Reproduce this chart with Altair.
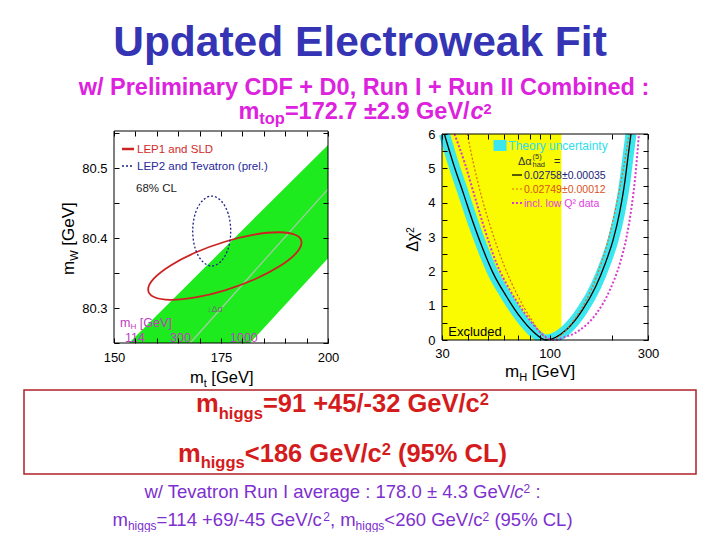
import altair as alt
import pandas as pd

# ================= DATA =================
# Left panel: m_W vs m_t
band_mt = [153.5, 181.8, 200.0]
band_mw_low = [80.25, 80.25, 80.371]
band_mw_high = [80.25, 80.4223, 80.533]
smline_mt = [167.8, 200.0]
smline_mw = [80.25, 80.47]
lep1_mt = [193.82, 192.46, 188.57, 182.76, 175.90, 169.04, 163.23, 159.34,
           157.98, 159.34, 163.23, 169.04, 175.90, 182.76, 188.57, 192.46]
lep1_mw = [80.3935, 80.4043, 80.4083, 80.4049, 80.3947, 80.3793, 80.3609, 80.3423,
           80.3265, 80.3157, 80.3117, 80.3151, 80.3253, 80.3407, 80.3592, 80.3777]
lep2_mt = [177.27, 176.68, 175.05, 172.83, 170.61, 168.98, 168.39, 168.98, 170.61, 172.83, 175.05, 176.68]
lep2_mw = [80.410, 80.435, 80.453, 80.460, 80.453, 80.435, 80.410, 80.385, 80.367, 80.360, 80.367, 80.385]
left_xticks = [150, 155, 160, 165, 170, 175, 180, 185, 190, 195, 200]
left_xlabels = [150, 175, 200]
left_yticks = [80.25, 80.30, 80.35, 80.40, 80.45, 80.50, 80.55]
left_ylabels = [80.3, 80.4, 80.5]
mh_scale_labels = ["114", "300", "1000"]

# Right panel: delta chi2 vs m_H
excluded_range = [30, 114]
fit_mh = [30.8, 34.0, 38.1, 42.6, 47.6, 53.2, 61.8, 71.7, 83.3, 96.0,
          120.0, 144.0, 167.0, 186.0, 203.0, 218.0, 231.0, 240.0, 248.0]
fit_chi2 = [6.0, 5.15, 4.27, 3.40, 2.62, 1.94, 1.26, 0.68, 0.24, 0.0,
            0.29, 0.87, 1.55, 2.23, 2.91, 3.69, 4.56, 5.34, 6.0]
alt2_mh = [39.8, 42.6, 46.7, 52.2, 59.5, 69.0, 81.8, 92.0, 101.0,
           112.0, 130.0, 150.0, 170.0, 190.0, 210.0, 228.0, 243.0]
alt2_chi2 = [6.0, 5.15, 4.17, 3.20, 2.23, 1.36, 0.58, 0.15, 0.0,
             0.12, 0.55, 1.15, 1.90, 2.80, 3.90, 5.00, 6.0]
lowq_mh = [34.5, 38.7, 43.3, 48.5, 55.2, 64.0, 75.7, 89.4, 98.0, 106.0,
           115.0, 140.0, 169.0, 196.0, 219.1, 236.2, 249.8, 261.2, 271.0]
lowq_chi2 = [6.0, 5.15, 4.17, 3.20, 2.23, 1.46, 0.78, 0.24, 0.05, 0.0,
             0.06, 0.29, 0.78, 1.46, 2.23, 3.01, 3.88, 4.86, 6.0]
right_xticks = [30, 40, 50, 60, 70, 80, 90, 100, 200, 300]
right_xlabels = [30, 100, 300]
right_yticks = [0, 0.5, 1, 1.5, 2, 2.5, 3, 3.5, 4, 4.5, 5, 5.5, 6]
right_ylabels = [0, 1, 2, 3, 4, 5, 6]

# ================= STYLE / LAYOUT =================
FONT = "Liberation Sans"
O = 8           # page margin
W, H = 704, 524
GREEN = "#1eeb1e"
YELLOW = "#fafa00"
CYAN = "#3ce6ee"
RED = "#cc2222"
NAVY = "#1e1e8c"
TITLE_C = "#3434b4"
MAG = "#dd22dd"
BOXRED = "#d41c1c"
PURPLE = "#7d2fcf"
MHLAB = "#c03cc0"

def g(v):
    return v - O

# left panel frame (page px): x 114-328, y 131-343
xs_l = alt.Scale(domain=[150, 200], range=[g(114), g(328)], nice=False, zero=False)
ys_l = alt.Scale(domain=[80.25, 80.553], range=[g(343), g(131)], nice=False, zero=False)
# right panel frame: x 442-648, y 134-340
xs_r = alt.Scale(type="log", domain=[30, 300], range=[g(442), g(648)], nice=False)
ys_r = alt.Scale(domain=[0, 6], range=[g(340), g(134)], nice=False, zero=False)


def label_axis(orient, offset, values, pad, fmt, size=13):
    return alt.Axis(orient=orient, offset=offset, values=values, format=fmt,
                    ticks=False, tickSize=0, domain=False, grid=False,
                    labelPadding=pad, labelFont=FONT, labelFontSize=size,
                    labelColor="black", labelFlush=False, labelOverlap=False,
                    title=None)


def tick_axis(orient, offset, values, size=5):
    return alt.Axis(orient=orient, offset=offset, values=values, ticks=True,
                    tickSize=size, tickColor="black", tickWidth=1, domain=False,
                    grid=False, labels=False, title=None, zindex=1)


def frame_layers(x0, x1, y0, y1, xs, ys, axes):
    df = pd.DataFrame({"x0": [x0], "x1": [x1], "y0": [y0], "y1": [y1]})
    out = []
    for k, (ax, ay) in enumerate(axes):
        out.append(
            alt.Chart(df).mark_rect(fill="white", fillOpacity=0, stroke="black",
                                    strokeWidth=1, strokeOpacity=1 if k == 0 else 0)
            .encode(x=alt.X("x0:Q", scale=xs, axis=ax), x2="x1:Q",
                    y=alt.Y("y0:Q", scale=ys, axis=ay), y2="y1:Q"))
    return out

# ---------- left panel ----------
band_df = pd.DataFrame({"mt": band_mt, "lo": band_mw_low, "hi": band_mw_high})
band = alt.Chart(band_df).mark_area(color=GREEN, opacity=1).encode(
    x=alt.X("mt:Q", scale=xs_l, axis=None),
    y=alt.Y("lo:Q", scale=ys_l, axis=None), y2="hi:Q")

sm_df = pd.DataFrame({"mt": smline_mt, "mw": smline_mw})
smline = alt.Chart(sm_df).mark_line(color="#a9c9a9", strokeWidth=1.2).encode(
    x=alt.X("mt:Q", scale=xs_l, axis=None), y=alt.Y("mw:Q", scale=ys_l, axis=None))

lep1_df = pd.DataFrame({"i": list(range(len(lep1_mt))), "mt": lep1_mt, "mw": lep1_mw})
lep1 = alt.Chart(lep1_df).mark_line(color=RED, strokeWidth=1.8, interpolate="cardinal-closed").encode(
    x=alt.X("mt:Q", scale=xs_l, axis=None), y=alt.Y("mw:Q", scale=ys_l, axis=None), order="i:Q")

lep2_df = pd.DataFrame({"i": list(range(len(lep2_mt))), "mt": lep2_mt, "mw": lep2_mw})
lep2 = alt.Chart(lep2_df).mark_line(color=NAVY, strokeWidth=1.3, strokeDash=[2, 2],
                                    interpolate="cardinal-closed").encode(
    x=alt.X("mt:Q", scale=xs_l, axis=None), y=alt.Y("mw:Q", scale=ys_l, axis=None), order="i:Q")

left_axes = [
    (label_axis("bottom", g(343) - H, left_xlabels, 8, "d"),
     label_axis("left", -g(114), left_ylabels, 7, ".1f")),
    (tick_axis("top", -g(343), left_xticks), tick_axis("right", g(114) - W, left_yticks)),
    (tick_axis("bottom", g(131) - H, left_xticks), tick_axis("left", -g(328), left_yticks)),
]
left = alt.layer(band, smline, lep1, lep2,
                 *frame_layers(150, 200, 80.25, 80.553, xs_l, ys_l, left_axes)
                 ).resolve_axis(x="independent", y="independent")

# ---------- right panel ----------
excl_df = pd.DataFrame({"a": [excluded_range[0]], "b": [excluded_range[1]], "lo": [0], "hi": [6]})
yellow = alt.Chart(excl_df).mark_rect(color=YELLOW).encode(
    x=alt.X("a:Q", scale=xs_r, axis=None), x2="b:Q",
    y=alt.Y("lo:Q", scale=ys_r, axis=None), y2="hi:Q")

fit_df = pd.DataFrame({"mh": fit_mh, "chi2": fit_chi2})
theory = alt.Chart(fit_df).mark_line(color=CYAN, strokeWidth=11, interpolate="monotone",
                                     strokeCap="butt", strokeJoin="round").encode(
    x=alt.X("mh:Q", scale=xs_r, axis=None), y=alt.Y("chi2:Q", scale=ys_r, axis=None))

masks = alt.Chart(pd.DataFrame({"k": [0]})).mark_rect(color="white").encode(
    x=alt.value(g(437)), x2=alt.value(g(653)), y=alt.value(g(340.6)), y2=alt.value(g(347)))
masks_top = alt.Chart(pd.DataFrame({"k": [0]})).mark_rect(color="white").encode(
    x=alt.value(g(437)), x2=alt.value(g(653)), y=alt.value(g(127)), y2=alt.value(g(133.5)))

fit_line = alt.Chart(fit_df).mark_line(color="black", strokeWidth=1.3, interpolate="monotone").encode(
    x=alt.X("mh:Q", scale=xs_r, axis=None), y=alt.Y("chi2:Q", scale=ys_r, axis=None))

alt2_df = pd.DataFrame({"mh": alt2_mh, "chi2": alt2_chi2})
alt2_line = alt.Chart(alt2_df).mark_line(color="#dd6a1a", strokeWidth=1.2, strokeDash=[2, 2],
                                         interpolate="monotone").encode(
    x=alt.X("mh:Q", scale=xs_r, axis=None), y=alt.Y("chi2:Q", scale=ys_r, axis=None))

lowq_df = pd.DataFrame({"mh": lowq_mh, "chi2": lowq_chi2})
lowq_line = alt.Chart(lowq_df).mark_line(color="#d63cd0", strokeWidth=2, strokeDash=[2, 2],
                                         interpolate="monotone").encode(
    x=alt.X("mh:Q", scale=xs_r, axis=None), y=alt.Y("chi2:Q", scale=ys_r, axis=None))

right_axes = [
    (label_axis("bottom", g(340) - H, right_xlabels, 7, "d"),
     label_axis("left", -g(442), right_ylabels, 7, "d")),
    (tick_axis("top", -g(340), right_xticks), tick_axis("right", g(442) - W, right_yticks)),
    (tick_axis("bottom", g(134) - H, right_xticks), tick_axis("left", -g(648), right_yticks)),
]
right = alt.layer(yellow, theory, masks, masks_top, fit_line, alt2_line, lowq_line,
                  *frame_layers(30, 300, 0, 6, xs_r, ys_r, right_axes)
                  ).resolve_axis(x="independent", y="independent")

# ---------- legend swatches / box ----------
one = pd.DataFrame({"k": [0]})
def rule(x1, x2, y, color, width, dash=None):
    kw = dict(color=color, strokeWidth=width)
    if dash:
        kw["strokeDash"] = dash
    return alt.Chart(one).mark_rule(**kw).encode(
        x=alt.value(g(x1)), x2=alt.value(g(x2)), y=alt.value(g(y)))

swatches = [
    rule(122, 134, 149, RED, 2.5),
    rule(122, 134, 166, NAVY, 1.3, [2, 2]),
    rule(512, 522, 175, "black", 1.3),
    rule(512, 522, 189, "#dd6a1a", 1.2, [2, 2]),
    rule(512, 522, 203, "#d63cd0", 2, [2, 2]),
    alt.Chart(one).mark_rect(color=CYAN).encode(
        x=alt.value(g(493.5)), x2=alt.value(g(506.5)), y=alt.value(g(140)), y2=alt.value(g(151))),
]
box = alt.Chart(one).mark_rect(fill="white", fillOpacity=0, stroke="#b0202a", strokeWidth=1.5).encode(
    x=alt.value(g(24)), x2=alt.value(g(696)), y=alt.value(g(390)), y2=alt.value(g(474)))

# ---------- texts ----------
W_REG = {' ': 278, '%': 889, '(': 333, ')': 333, '+': 584, ',': 278, '-': 333, '.': 278, '/': 278,
         ':': 278, '<': 584, '=': 584, '±': 584, 'C': 722, 'G': 778, 'I': 278, 'L': 556, 'R': 722,
         'T': 611, 'V': 667, 'a': 556, 'c': 500, 'd': 556, 'e': 556, 'g': 556, 'h': 556, 'i': 222,
         'l': 222, 'm': 833, 'n': 556, 'o': 556, 'r': 333, 's': 500, 't': 278, 'u': 556, 'v': 500,
         'w': 722, 'x': 500, 'y': 500, 'E': 667, 'P': 667, 'S': 667, 'D': 722, 'Q': 778, 'H': 722,
         'W': 944, '[': 278, ']': 278, 'Δ': 668, 'α': 578, 'χ': 500, 'k': 500, 'p': 556, 'b': 556,
         'F': 611, 'U': 722}
W_BOLD = {' ': 278, '%': 889, '(': 333, ')': 333, '+': 584, ',': 278, '-': 333, '.': 278, '/': 278,
          ':': 333, '<': 584, '=': 584, '±': 584, 'C': 722, 'D': 722, 'E': 667, 'F': 611, 'G': 778,
          'I': 278, 'L': 611, 'P': 667, 'R': 722, 'U': 722, 'V': 667, 'a': 556, 'b': 611, 'c': 556,
          'd': 611, 'e': 556, 'g': 611, 'h': 611, 'i': 278, 'k': 556, 'l': 278, 'm': 889, 'n': 611,
          'o': 611, 'p': 611, 'r': 389, 's': 556, 't': 333, 'u': 611, 'w': 778, 'y': 556}
KERN = {'Te': -111, 'ev': -28, 'va': -28, 'av': -18, 've': -28}


def tw(s, size, bold):
    tab = W_BOLD if bold else W_REG
    total = sum(tab.get(ch, 556) for ch in s)
    if not bold:
        total += sum(KERN.get(s[k:k + 2], 0) for k in range(len(s) - 1))
    return total * size / 1000.0


rows = []


def add(t, x, y, size, color, bold=False, italic=False, angle=0):
    rows.append(dict(t=t, x=g(x), y=g(y), s=size, c=color, b=bold, i=italic, a=angle))


def compose(segs, base, size, color, bold, x0=None, center=None, sub_ratio=0.65,
            sup_ratio=0.65, sub_dy=None, sup_dy=None, angle=0):
    sub_s, sup_s = size * sub_ratio, size * sup_ratio
    if sub_dy is None:
        sub_dy = 0.25 * size
    if sup_dy is None:
        sup_dy = -0.716 * (size - sup_s)
    def spec(kind):
        if kind == "sub":
            return sub_s, sub_dy
        if kind == "sup":
            return sup_s, sup_dy
        return size, 0
    total = sum(tw(t, spec(k)[0], bold) for t, k in segs)
    if center is not None:
        x0 = center - total / 2
    pos = x0
    for t, k in segs:
        sz, dy = spec(k)
        lead = len(t) - len(t.lstrip(' '))
        adv0 = tw(' ' * lead, sz, bold)
        if angle == 0:
            add(t.lstrip(' '), pos + adv0, base + dy, sz, color, bold, k == "it")
            pos = pos + tw(t, sz, bold)
        else:  # rotated 270: text runs upward
            add(t.lstrip(' '), base + dy, pos - adv0, sz, color, bold, k == "it", angle)
            pos = pos - tw(t, sz, bold)

# slide titles
compose([("Updated Electroweak Fit", "n")], 56, 42.5, TITLE_C, True, center=360)
compose([("w/ Preliminary CDF + D0, Run I + Run II Combined :", "n")], 95, 23.5, MAG, True, center=364)
compose([("m", "n"), ("top", "sub"), ("=172.7 ±2.9 GeV/", "n"), ("c", "it"), ("2", "sup")],
        119, 23.5, MAG, True, center=365, sub_ratio=0.7, sup_ratio=0.62, sub_dy=5, sup_dy=-5.5)
# result box
compose([("m", "n"), ("higgs", "sub"), ("=91 +45/-32 GeV/c", "n"), ("2", "sup")],
        412, 25.5, BOXRED, True, center=342.5, sub_dy=6.5, sup_dy=-7)
compose([("m", "n"), ("higgs", "sub"), ("<186 GeV/c", "n"), ("2", "sup"), (" (95% CL)", "n")],
        461.5, 25.5, BOXRED, True, center=342.5, sub_dy=6.5, sup_dy=-7)
# bottom lines
compose([("w/ Tevatron Run I average : 178.0 ± 4.3 GeV/", "n"), ("c", "it"), ("2", "sup"), (" :", "n")],
        498.3, 18.5, PURPLE, False, center=342.5, sup_dy=-5)
compose([("m", "n"), ("higgs", "sub"), ("=114 +69/-45 GeV/c", "n"), ("2", "sup"), (", m", "n"),
         ("higgs", "sub"), ("<260 GeV/c", "n"), ("2", "sup"), (" (95% CL)", "n")],
        526, 18.5, PURPLE, False, center=342.5, sub_dy=4, sup_dy=-5)

# left panel texts
add("LEP1 and SLD", 137, 153.3, 11.5, "#d42a2a")
add("LEP2 and Tevatron (prel.)", 137, 170, 11.5, "#28289a")
add("68% CL", 136, 191.7, 11.5, "#222222")
compose([("m", "n"), ("H", "sub"), (" [GeV]", "n")], 327, 12.5, MHLAB, False, x0=120, sub_dy=2)
for lab, xx in zip(mh_scale_labels, [125, 170, 230]):
    add(lab, xx, 341.5, 12.5, MHLAB)
add("↓Δα", 207, 312, 9, "#707070")
compose([("m", "n"), ("t", "sub"), (" [GeV]", "n")], 383.3, 16.5, "black", False, x0=190, sub_dy=4)
compose([("m", "n"), ("W", "sub"), (" [GeV]", "n")], 74, 17, "black", False, x0=275, sub_dy=3.5, angle=270)

# right panel texts
add("Excluded", 448.3, 335.7, 13, "black")
add("Theory uncertainty", 508.3, 150, 12, "#2ee0ee")
add("Δα", 518, 165, 11, "#333333")
add("(5)", 532.5, 158.5, 7.5, "#333333")
add("had", 532.5, 167.3, 7.5, "#333333")
add("=", 554, 165, 11, "#333333")
add("0.02758±0.00035", 524, 178.8, 10.5, "#1c1c7a")
add("0.02749±0.00012", 524, 192.5, 10.5, "#d9531e")
add("incl. low Q² data", 524, 206.5, 10.5, "#e040e0")
compose([("m", "n"), ("H", "sub"), (" [GeV]", "n")], 376.7, 17, "black", False, x0=505, sub_dy=4)
compose([("Δχ", "n"), ("2", "sup")], 418, 16, "black", False, x0=251.7, sup_ratio=0.66, angle=270)

tdf = pd.DataFrame(rows)
text_layers = []
for (b, i, a), sub in tdf.groupby(["b", "i", "a"]):
    text_layers.append(
        alt.Chart(sub.reset_index(drop=True)).mark_text(
            align="left", baseline="alphabetic", font=FONT,
            fontWeight="bold" if b else "normal",
            fontStyle="italic" if i else "normal", angle=int(a)).encode(
            x=alt.X("x:Q", scale=None, axis=None),
            y=alt.Y("y:Q", scale=None, axis=None),
            text="t:N",
            size=alt.Size("s:Q", scale=None, legend=None),
            color=alt.Color("c:N", scale=None, legend=None)))

chart = alt.layer(left, right, box, *swatches, *text_layers).resolve_scale(
    x="independent", y="independent").properties(
    width=W, height=H, autosize=alt.AutoSizeParams(type="none"), padding=0,
    background="white").configure_view(strokeWidth=0)

chart.save("out.html", embed_options={"renderer": "svg", "actions": False})
